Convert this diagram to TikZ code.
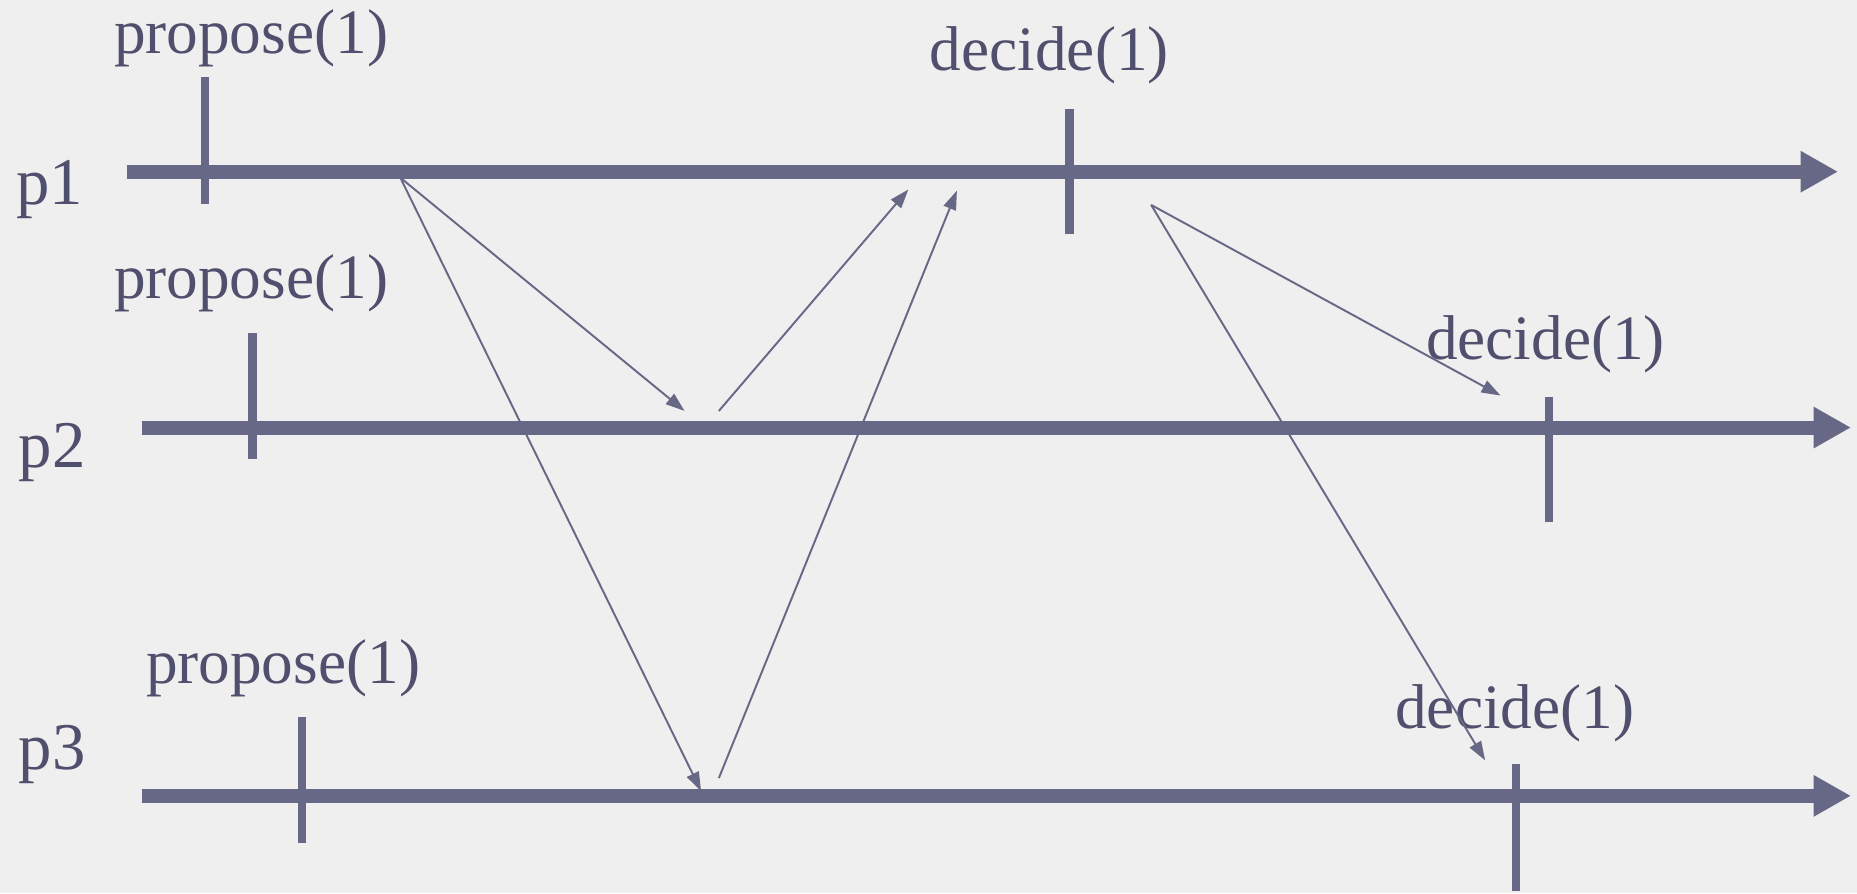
\documentclass[tikz,border=0pt]{standalone}
\usepackage{fontspec}
\setmainfont{Liberation Serif}
\usetikzlibrary{arrows.meta}
\definecolor{bgcol}{RGB}{239,239,239}
\definecolor{linecol}{RGB}{103,104,134}
\definecolor{txtcol}{RGB}{80,80,110}

\begin{document}
\begin{tikzpicture}
\tikzstyle{every node}=[font=\fontsize{36pt}{43pt}\selectfont, text=txtcol, inner sep=0pt]
\tikzstyle{timeline}=[draw=linecol, line width=8pt, -{Triangle[length=0.75cm,width=0.78cm]}]
\tikzstyle{tick}=[draw=linecol, line width=5pt]
\tikzstyle{msg}=[draw=linecol, line width=1.1pt, -{Triangle[length=0.38cm,width=0.26cm]}]
\fill [bgcol] (0,0) rectangle (37.14,17.86);
\useasboundingbox (0,0) rectangle (37.14,17.86);
% processes
\node [font=\fontsize{38pt}{45pt}\selectfont] (lp1) at (0.995,14.07) {p1};
\node [font=\fontsize{38pt}{45pt}\selectfont] (lp2) at (1.042,8.812) {p2};
\node [font=\fontsize{38pt}{45pt}\selectfont] (lp3) at (1.042,2.772) {p3};
\coordinate (p1s) at (2.534,14.426);
\coordinate (p1e) at (36.76,14.426);
\coordinate (p2s) at (2.842,9.309);
\coordinate (p2e) at (37.02,9.309);
\coordinate (p3s) at (2.842,1.943);
\coordinate (p3e) at (37.02,1.943);
\draw [timeline] (p1s) -- (p1e);
\draw [timeline] (p2s) -- (p2e);
\draw [timeline] (p3s) -- (p3e);
% propose
\node (prop1) at (5.021,17.10) {propose(1)};
\node (prop2) at (5.021,12.20) {propose(1)};
\node (prop3) at (5.661,4.50) {propose(1)};
\coordinate (pt1a) at (4.098,16.32);
\coordinate (pt1b) at (4.098,13.786);
\coordinate (pt2a) at (5.045,11.204);
\coordinate (pt2b) at (5.045,8.670);
\coordinate (pt3a) at (6.040,3.530);
\coordinate (pt3b) at (6.040,0.995);
\draw [tick] (pt1a) -- (pt1b);
\draw [tick] (pt2a) -- (pt2b);
\draw [tick] (pt3a) -- (pt3b);
% decide
\node (dec1) at (20.986,16.75) {decide(1)};
\node (dec2) at (30.910,10.97) {decide(1)};
\node (dec3) at (30.294,3.60) {decide(1)};
\coordinate (dt1a) at (21.388,15.681);
\coordinate (dt1b) at (21.388,13.170);
\coordinate (dt2a) at (30.981,9.925);
\coordinate (dt2b) at (30.981,7.415);
\coordinate (dt3a) at (30.318,2.582);
\coordinate (dt3b) at (30.318,0.048);
\draw [tick] (dt1a) -- (dt1b);
\draw [tick] (dt2a) -- (dt2b);
\draw [tick] (dt3a) -- (dt3b);
% messages
\coordinate (m1) at (8.006,14.307);
\coordinate (m1a) at (13.691,9.641);
\coordinate (m1b) at (14.022,2.038);
\coordinate (m2) at (14.377,9.641);
\coordinate (m2a) at (18.167,14.070);
\coordinate (m3) at (14.377,2.298);
\coordinate (m3a) at (19.138,14.047);
\coordinate (m4) at (23.023,13.762);
\coordinate (m4a) at (30.010,9.949);
\coordinate (m4b) at (29.702,2.653);
\draw [msg] (m1) -- (m1a);
\draw [msg] (m1) -- (m1b);
\draw [msg] (m2) -- (m2a);
\draw [msg] (m3) -- (m3a);
\draw [msg] (m4) -- (m4a);
\draw [msg] (m4) -- (m4b);
\end{tikzpicture}
\end{document}
